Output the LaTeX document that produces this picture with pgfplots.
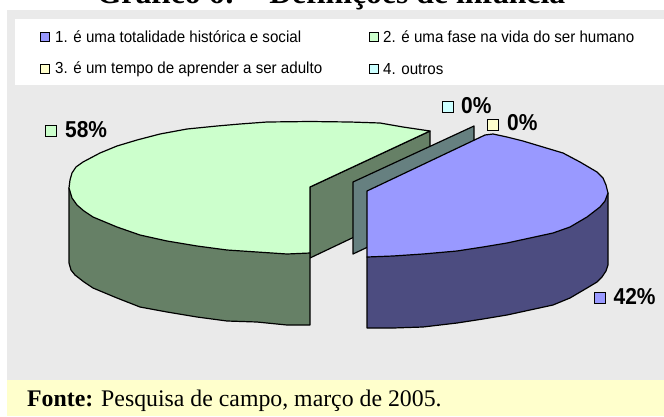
\documentclass[border=0pt]{standalone}
\usepackage{pgfplots}
\pgfplotsset{compat=1.18}
\usepackage{fontspec}
\setmainfont{Liberation Sans}
\newfontfamily\timesf{Liberation Serif}
\definecolor{bg}{HTML}{EAEAEA}
\definecolor{foot}{HTML}{FFFFCC}
\definecolor{gtop}{HTML}{CCFFCC}
\definecolor{gside}{HTML}{668066}
\definecolor{btop}{HTML}{9999FF}
\definecolor{bside}{HTML}{4C4C80}
\definecolor{tside}{HTML}{668080}
\definecolor{lcyan}{HTML}{CCFFFF}
\newcommand{\legtxt}[1]{\fontsize{16}{16}\selectfont\scalebox{0.945}[1]{#1}}
\newcommand{\lab}[1]{\fontsize{23}{23}\selectfont\bfseries\scalebox{0.91}[1]{#1}}
\begin{document}
\begin{tikzpicture}
\clip (0,0) rectangle (664pt,416pt);
\begin{axis}[
  at={(0,0)},anchor=south west,
  width=664pt,height=416pt,scale only axis,
  xmin=0,xmax=664,ymin=0,ymax=416,y dir=reverse,
  hide axis,clip=true,
  legendm/.style={only marks,mark=square*,mark size=4.5pt,mark options={draw=black,line width=0.9pt}},
  labelm/.style={only marks,mark=square*,mark size=5.5pt,mark options={draw=black,line width=0.9pt}},
  pie/.style={draw=black,line width=1.2pt,line join=round},
]
% panels
\addplot[fill=bg,draw=none] coordinates {(7,10)(664,10)(664,380)(7,380)} --cycle;
\addplot[fill=foot,draw=none] coordinates {(7,380)(664,380)(664,416)(7,416)} --cycle;
\addplot[fill=white,draw=none] coordinates {(15,19)(664,19)(664,85)(15,85)} --cycle;
% green slice, side wall and inner wall
\addplot[pie,fill=gside] coordinates {(310,187)(430,131)(430,201)(310,258)} --cycle;
\addplot[pie,fill=gside] coordinates {(69,188)(69,263)(71,270)(75,275)(84,282)(93,288)(117,298)(140,307)(167,312)(197,317)(227,321)(257,322)(287,325)(310,325)(310,253)} --cycle;
\addplot[pie,fill=gtop] coordinates {(69,188)(70,180)(72,173)(76,167)(83,162)(100,153)(117,146)(137,140)(160,134)(187,129)(217,126)(240,124)(267,122)(310,121.5)(350,122)(380,123)(403,127)(430,131)(310,187)(310,253)(287,254)(257,252)(227,250)(197,246)(167,241)(140,235)(117,227)(93,217)(84,211)(77,205)(72,198)} --cycle;
% zero slice wall
\addplot[pie,fill=tside] coordinates {(353,182)(474,126)(474,197)(353,254)} --cycle;
% blue slice
\addplot[pie,fill=bside] coordinates {(367,257)(367,328)(393,328)(423,327)(457,323)(483,319)(507,315)(530,310)(553,305)(570,298)(587,288)(597,282)(602,277)(606,271)(608,265)(608,193)} --cycle;
\addplot[pie,fill=btop] coordinates {(367,191)(485,135)(493,134)(507,137)(523,141)(543,147)(563,153)(580,162)(597,172)(603,178)(606,185)(608,193)(605,201)(600,207)(587,217)(570,227)(553,233)(530,238)(507,243)(483,247)(457,251)(423,254)(393,256)(367,257)} --cycle;
% legend markers
\addplot[legendm,mark options={fill=btop}] coordinates {(44.5,37)};
\addplot[legendm,mark options={fill=gtop}] coordinates {(374,37)};
\addplot[legendm,mark options={fill=foot}] coordinates {(44.5,69)};
\addplot[legendm,mark options={fill=lcyan}] coordinates {(374,69)};
% label markers
\addplot[labelm,mark options={fill=gtop}] coordinates {(51,131)};
\addplot[labelm,mark options={fill=lcyan}] coordinates {(447.5,107)};
\addplot[labelm,mark options={fill=foot}] coordinates {(493,124.5)};
\addplot[labelm,mark options={fill=btop}] coordinates {(600,298)};
% legend text
\node[anchor=west,inner sep=0pt] at (axis cs:55,37) {\legtxt{1. é uma totalidade histórica e social}};
\node[anchor=west,inner sep=0pt] at (axis cs:383,37) {\legtxt{2. é uma fase na vida do ser humano}};
\node[anchor=west,inner sep=0pt] at (axis cs:55,69) {\legtxt{3. é um tempo de aprender a ser adulto}};
\node[anchor=west,inner sep=0pt] at (axis cs:383,69) {\legtxt{4. outros}};
% data labels
\node[anchor=west,inner sep=0pt] at (axis cs:65,130) {\lab{58\%}};
\node[anchor=west,inner sep=0pt] at (axis cs:461,106) {\lab{0\%}};
\node[anchor=west,inner sep=0pt] at (axis cs:507,123) {\lab{0\%}};
\node[anchor=west,inner sep=0pt] at (axis cs:613.5,297) {\lab{42\%}};
% title, cut by the page's top edge as in the reference, and source
\node[anchor=base,inner sep=0pt] at (axis cs:331,3) {\timesf\fontsize{31.7}{32}\selectfont\bfseries Gráfico 6: – Definições de infância};
\node[anchor=base west,inner sep=0pt] at (axis cs:27,406.5) {\timesf\fontsize{23.8}{24}\selectfont\textbf{Fonte:} Pesquisa de campo, março de 2005.};
\end{axis}
\end{tikzpicture}
\end{document}
